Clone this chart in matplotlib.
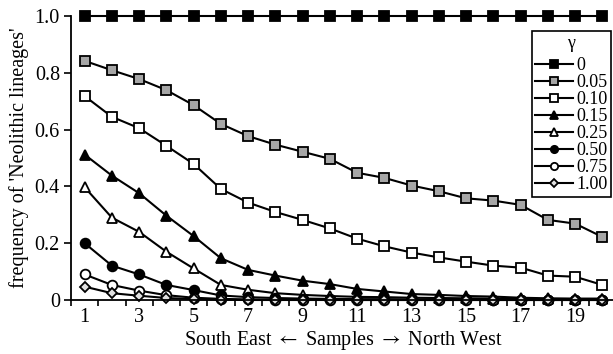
import numpy as np
import matplotlib.pyplot as plt

plt.rcParams["font.family"] = ["Liberation Serif", "DejaVu Serif"]
plt.rcParams["mathtext.fontset"] = "stix"

samples = list(range(1, 21))
gammas = ["0", "0.05", "0.10", "0.15", "0.25", "0.50", "0.75", "1.00"]

g000 = [1.0] * 20
g005 = [0.842, 0.809, 0.778, 0.739, 0.686, 0.620, 0.577, 0.547, 0.522, 0.497,
        0.448, 0.430, 0.403, 0.383, 0.358, 0.350, 0.335, 0.282, 0.269, 0.222]
g010 = [0.718, 0.645, 0.605, 0.543, 0.479, 0.391, 0.343, 0.310, 0.282, 0.252,
        0.216, 0.189, 0.167, 0.150, 0.135, 0.121, 0.114, 0.086, 0.082, 0.053]
g015 = [0.512, 0.438, 0.376, 0.297, 0.225, 0.147, 0.106, 0.086, 0.068, 0.056,
        0.039, 0.030, 0.021, 0.018, 0.014, 0.012, 0.008, 0.006, 0.005, 0.005]
g025 = [0.397, 0.290, 0.240, 0.170, 0.111, 0.053, 0.036, 0.024, 0.018, 0.014,
        0.011, 0.010, 0.008, 0.007, 0.006, 0.005, 0.004, 0.003, 0.003, 0.002]
g050 = [0.200, 0.121, 0.090, 0.053, 0.035, 0.016, 0.010, 0.007, 0.005, 0.004,
        0.003, 0.003, 0.002, 0.002, 0.002, 0.001, 0.001, 0.001, 0.001, 0.001]
g075 = [0.090, 0.053, 0.033, 0.017, 0.008, 0.004, 0.002, 0.001, 0.001, 0.001,
        0.0, 0.0, 0.0, 0.0, 0.0, 0.0, 0.0, 0.0, 0.0, 0.0]
g100 = [0.047, 0.024, 0.015, 0.007, 0.003, 0.001, 0.0, 0.0, 0.0, 0.0,
        0.0, 0.0, 0.0, 0.0, 0.0, 0.0, 0.0, 0.0, 0.0, 0.0]

series = [g000, g005, g010, g015, g025, g050, g075, g100]
markers = ["s", "s", "s", "^", "^", "o", "o", "D"]
faces = ["black", "#a6a6a6", "white", "black", "white", "black", "white", "#e0e0e0"]
sizes = [7, 7, 7, 7.5, 7.5, 7, 7, 5]

fig = plt.figure(figsize=(6.13, 3.54), dpi=100)
ax = fig.add_axes([71 / 613, 54 / 354, 545 / 613, 284 / 354])

for vals, lab, m, fc, ms in zip(series, gammas, markers, faces, sizes):
    ax.plot(samples, vals, color="black", lw=1.5, marker=m, markersize=ms,
            markerfacecolor=fc, markeredgecolor="black", markeredgewidth=1.3,
            label=lab, clip_on=False)

ax.set_xlim(0.5, 20.5)
ax.set_ylim(0, 1)
ax.set_xticks(np.arange(0.5, 21, 1))
ax.set_xticklabels([])
ax.set_xticks(range(1, 21, 2), minor=True)
ax.set_xticklabels([str(i) for i in range(1, 21, 2)], minor=True)
ax.tick_params(axis="x", which="minor", length=0, labelsize=14.5, pad=6)
ax.tick_params(axis="x", which="major", length=4, width=1.2, direction="out")
ax.set_yticks([0, 0.2, 0.4, 0.6, 0.8, 1.0])
ax.set_yticklabels(["0", "0.2", "0.4", "0.6", "0.8", "1.0"])
ax.tick_params(axis="y", length=5, width=1.2, labelsize=14.5, pad=3)

for s in ["top", "right"]:
    ax.spines[s].set_visible(False)
for s in ["left", "bottom"]:
    ax.spines[s].set_linewidth(1.3)

ax.set_xlabel(r"South East $\leftarrow$ Samples $\rightarrow$ North West",
              fontsize=14.5, labelpad=1)
ax.set_ylabel("frequency of 'Neolithic lineages'", fontsize=14.5, labelpad=4)

leg = ax.legend(title="\u03b3", loc="upper right", bbox_to_anchor=(611 / 613, 323 / 354),
                bbox_transform=fig.transFigure, fontsize=13, title_fontsize=13,
                frameon=True, fancybox=False, edgecolor="black", framealpha=1,
                handlelength=2.1, handletextpad=0.15, labelspacing=0,
                borderpad=0.2, borderaxespad=0, markerscale=0.75)
leg._legend_box.sep = 4
leg.get_frame().set_linewidth(1.2)

fig.savefig("out.png", dpi=100)
